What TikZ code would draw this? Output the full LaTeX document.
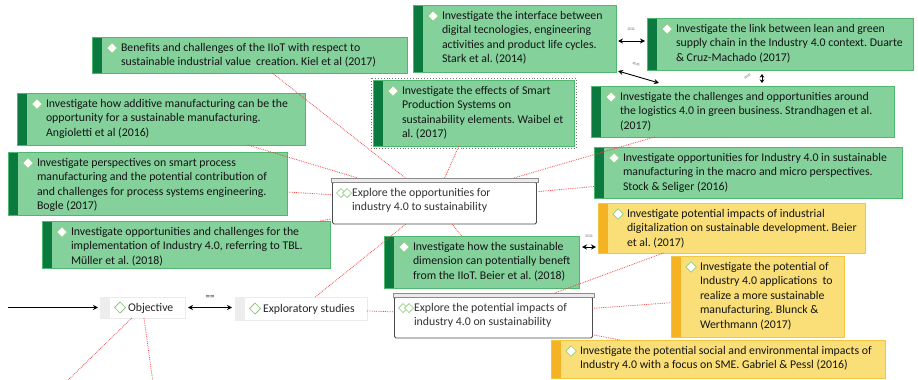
\documentclass[tikz,border=0pt]{standalone}
\usepackage{fontspec}
\setmainfont{Carlito}
\usetikzlibrary{arrows.meta,calc,shapes.geometric}
\frenchspacing

\definecolor{ideaGreen}{HTML}{84D19C}
\definecolor{ideaGreenLine}{HTML}{4DB86E}
\definecolor{ideaGreenDark}{HTML}{0B7A3E}
\definecolor{ideaYellow}{HTML}{FADF78}
\definecolor{ideaYellowLine}{HTML}{F2C640}
\definecolor{ideaYellowDark}{HTML}{F5B324}
\definecolor{iconGreen}{HTML}{8CD07C}
\definecolor{linkRed}{HTML}{F04848}
\definecolor{inkText}{HTML}{141414}

% Coloured idea box: name, style, left, top, right, bottom, text
\newcommand\ideabox[7]{%
  \node[#2, minimum width={#5-#3}, minimum height={#6-#4}, anchor=north west] (#1) at (#3,#4) {};
  \fill[#2strip] (#1.north west) rectangle ([xshift=10pt]#1.south west);
  \draw[#2line] (#1.north west) rectangle (#1.south east);
  \node[iconmark] (#1-i) at ($(#1.north west)+(20,11)$) {};
  \node[ideatext] (#1-t) at ($(#1.north west)+(29,6.4)$) {#7};
}

% Topic box with a grey header bar: name, left, top, right, bottom, text
\newcommand\topicbox[6]{%
  \node[rectangle, minimum width={#4-#2}, minimum height={#5-#3}, anchor=north west] (#1) at (#2,#3) {};
  \draw[topicbody] ($(#1.north west)+(1.5,4)$) rectangle ($(#1.south east)+(-1.5,0)$);
  \draw[topicbar] (#1.north west) rectangle ($(#1.north east)+(0,4)$);
  \node[iconmark, minimum width=9pt, minimum height=9pt, fill=none] (#1-ia) at ($(#1.north west)+(10,15)$) {};
  \node[iconmark, minimum width=9pt, minimum height=9pt] (#1-ib) at ($(#1.north west)+(16,15)$) {};
  \node[ideatext, text=black!80] (#1-t) at ($(#1.north west)+(21,10.4)$) {#6};
}

% Plain entry with a light grey tab: name, left, top, right, bottom, text
\newcommand\plainbox[6]{%
  \node[rectangle, fill=white, draw=black!8, line width=0.8pt, minimum width={#4-#2}, minimum height={#5-#3}, anchor=north west] (#1) at (#2,#3) {};
  \fill[black!7] (#1.north west) rectangle ([xshift=10pt]#1.south west);
  \node[iconmark, minimum width=11pt, minimum height=11pt, fill=white, draw=iconGreen!90!black] (#1-i) at ($(#1.west)+(20,0)$) {};
  \node[ideatext, anchor=west, text=black!85] (#1-t) at ($(#1.west)+(28,0.5)$) {#6};
}

\begin{document}
\begin{tikzpicture}[x=1pt,y=-1pt,
  every node/.style={inner sep=0pt, outer sep=0pt},
  ideagreen/.style={rectangle, fill=ideaGreen},
  ideagreenstrip/.style={fill=ideaGreenDark},
  ideagreenline/.style={draw=ideaGreenLine, line width=0.8pt},
  ideayellow/.style={rectangle, fill=ideaYellow},
  ideayellowstrip/.style={fill=ideaYellowDark},
  ideayellowline/.style={draw=ideaYellowLine, line width=0.8pt},
  iconmark/.style={diamond, minimum width=10.5pt, minimum height=10.5pt, fill=white, draw=iconGreen, line width=0.7pt},
  ideatext/.style={anchor=north west, align=left, text=inkText,
    font=\fontsize{11.8}{14.4}\selectfont},
  topicbody/.style={fill=white, draw=black!70, line width=0.8pt, rounded corners=1.5pt},
  topicbar/.style={fill=black!8, draw=black!45, line width=0.6pt},
  link/.style={draw=linkRed, densely dotted, line width=0.8pt},
  dbl/.style={{Stealth[length=5pt,width=5pt]}-{Stealth[length=5pt,width=5pt]}, line width=0.9pt, black},
  eqlab/.style={font=\fontsize{7.5}{7.5}\selectfont\bfseries, text=black!40},
]
\useasboundingbox (0,0) rectangle (918,380);

% free ends of the open connectors
\coordinate (objc1) at (62,386);
\coordinate (objc2) at (154,390);
\coordinate (objin) at (8,307.5);

% ---- idea boxes --------------------------------------------------------
\ideabox{kiel}{ideagreen}{92}{37}{407}{73}{Benefits and challenges of the IIoT with respect to\\sustainable industrial value\ \ creation. Kiel et al (2017)}
\ideabox{angio}{ideagreen}{17}{93}{305}{145}{Investigate how additive manufacturing can be the\\opportunity for a sustainable manufacturing.\\Angioletti et al (2016)}
\ideabox{bogle}{ideagreen}{8}{152}{287}{215}{Investigate perspectives on smart process\\manufacturing and the potential contribution of\\and challenges for process systems engineering.\\Bogle (2017)}
\ideabox{muller}{ideagreen}{42}{221}{330}{268}{Investigate opportunities and challenges for the\\implementation of Industry 4.0, referring to TBL.\\Müller et al. (2018)}
\ideabox{stark}{ideagreen}{413}{5}{616}{72}{Investigate the interface between\\digital tecnologies, engineering\\activities and product life cycles.\\Stark et al. (2014)}
\draw[black!55, dotted, line width=0.9pt] (371,78) rectangle (576,148);
\ideabox{waibel}{ideagreen}{373}{80}{574}{146}{Investigate the effects of Smart\\Production Systems on\\sustainability elements. Waibel et\\al. (2017)}
\ideabox{duarte}{ideagreen}{647}{18}{913}{70}{Investigate the link between lean and green\\supply chain in the Industry 4.0 context. Duarte\\\& Cruz-Machado (2017)}
\ideabox{strand}{ideagreen}{591}{86}{894}{137}{Investigate the challenges and opportunities around\\the logistics 4.0 in green business. Strandhagen et al.\\(2017)}
\ideabox{stock}{ideagreen}{594}{147}{902}{198}{Investigate opportunities for Industry 4.0 in sustainable\\manufacturing in the macro and micro perspectives.\\Stock \& Seliger (2016)}
\ideabox{beierb}{ideagreen}{384}{236}{579}{288}{Investigate how the sustainable\\dimension can potentially beneft\\from the IIoT. Beier et al. (2018)}
\ideabox{beiera}{ideayellow}{598}{203}{865}{253}{Investigate potential impacts of industrial\\digitalization on sustainable development. Beier\\et al. (2017)}
\ideabox{blunck}{ideayellow}{671}{256}{844}{337}{Investigate the potential of\\Industry 4.0 applications\ \ to\\realize a more sustainable\\manufacturing. Blunck \&\\Werthmann (2017)}
\ideabox{gabriel}{ideayellow}{551}{340}{885}{378}{Investigate the potential social and environmental impacts of\\Industry 4.0 with a focus on SME. Gabriel \& Pessl (2016)}

% ---- topics --------------------------------------------------------------
\topicbox{expo}{331}{178}{538}{224}{Explore the opportunities for\\industry 4.0 to sustainability}
\topicbox{expp}{393}{293}{594}{338}{Explore the potential impacts of\\industry 4.0 on sustainability}
\plainbox{obj}{100}{297}{185}{318}{Objective}
\plainbox{exst}{235}{297}{367}{320}{Exploratory studies}

% ---- dotted links ----------------------------------------------------------
\draw[link] (kiel) -- (expo);
\draw[link] (angio) -- (expo);
\draw[link] (bogle) -- (expo);
\draw[link] (muller) -- (expo);
\draw[link] (waibel) -- (expo);
\draw[link] (strand) -- (expo);
\draw[link] (stock) -- (expo);
\draw[link] (beierb) -- (expo);
\draw[link] (exst) -- (expo);
\draw[link] (exst) -- (expp);
\draw[link] (expp) -- (beiera);
\draw[link] (expp) -- (blunck);
\draw[link] (expp) -- (gabriel);
\draw[link] (obj) -- (objc1);
\draw[link] (obj) -- (objc2);

% ---- relation arrows ---------------------------------------------------------
\draw[-{Stealth[length=5pt,width=5pt]}, line width=0.8pt, shorten >=2pt] (objin) -- (obj.west);
\draw[dbl, shorten <=3pt, shorten >=3pt] (obj.east) -- (obj.east -| exst.west);
\node[font=\fontsize{9}{9}\selectfont, text=black!80] (eq1) at (210,298) {==};

\draw[dbl] ($(stark.east)+(2,2.5)$) -- ($(duarte.west)+(-2,-3)$);
\node[eqlab] (eq2) at (631,30) {==};
\draw[dbl] ($(stark.south east)+(2,-1)$) -- ($(strand.north west)+(68,-3)$);
\node[eqlab, rotate=-16] (eq3) at (636,65) {==};
\draw[{Stealth[length=3.5pt,width=4.5pt]}-{Stealth[length=3.5pt,width=4.5pt]}, line width=0.9pt] ($(duarte.south west)+(115,4)$) -- ($(strand.north west)+(171,-3)$);
\node[eqlab, rotate=35] (eq4) at (748,77) {==};
\draw[dbl] ($(beierb.east)+(3,-15)$) -- ($(beiera.west)+(-2,19)$);
\node[eqlab] (eq5) at (589,237) {==};

\end{tikzpicture}
\end{document}
